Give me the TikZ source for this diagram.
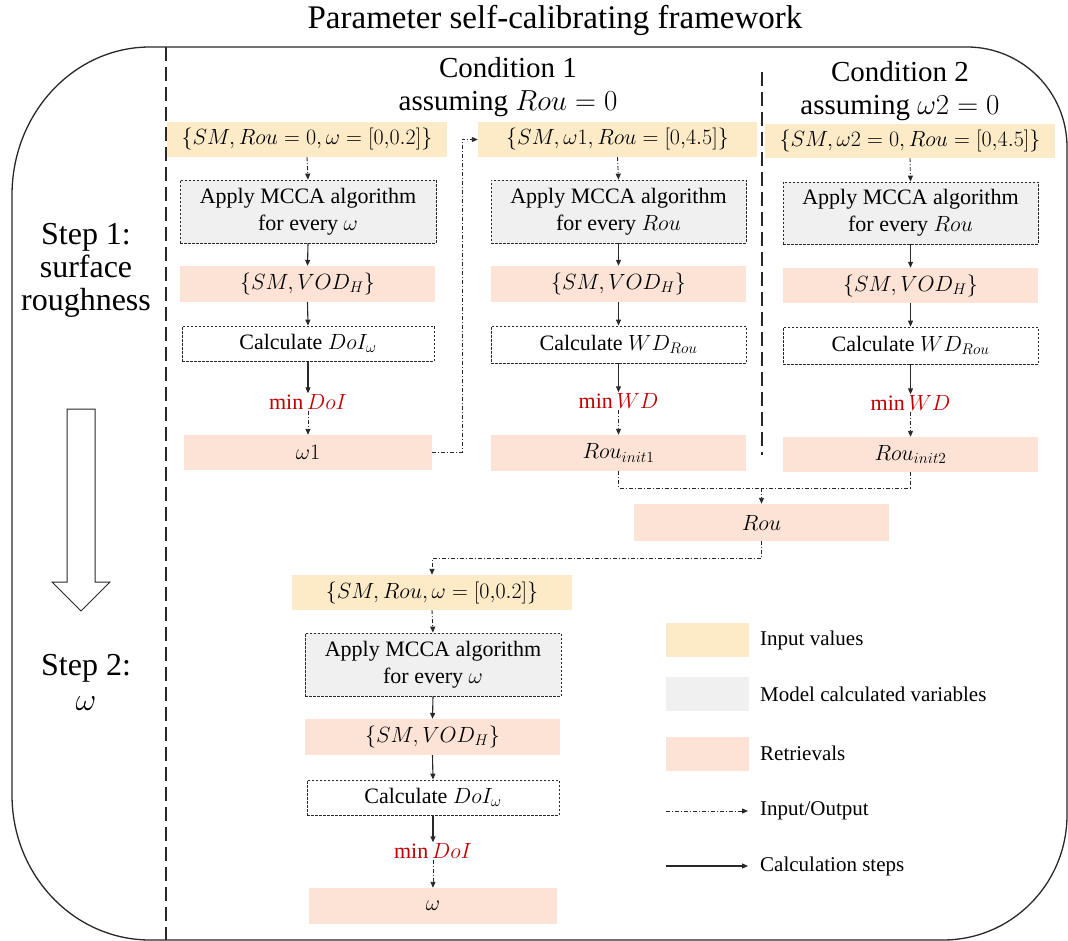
\RequirePackage{fix-cm}
\documentclass[tikz,border=0pt]{standalone}
\usepackage{fontspec}
\setmainfont{Liberation Serif}
\usetikzlibrary{arrows.meta}
\definecolor{inc}{RGB}{253,235,200}
\definecolor{gyc}{RGB}{240,240,240}
\definecolor{pkc}{RGB}{252,227,214}
\definecolor{mred}{RGB}{192,0,0}
\definecolor{ln}{RGB}{40,40,40}
\newcommand{\bxf}{\rmfamily\fontsize{22}{27}\selectfont}
\newcommand{\lgf}{\rmfamily\fontsize{21}{25}\selectfont}
\newcommand{\cdf}{\rmfamily\fontsize{29}{33}\selectfont}
\newcommand{\stf}{\rmfamily\fontsize{32}{35}\selectfont}
\newcommand{\ttf}{\rmfamily\fontsize{33}{38}\selectfont}
\newcommand{\twol}[2]{\begin{tabular}{@{}c@{}}#1\\#2\end{tabular}}
\newcommand{\threel}[3]{\begin{tabular}{@{}c@{}}#1\\#2\\#3\end{tabular}}
\begin{document}
\begin{tikzpicture}[x=1pt,y=-1pt,
 bx/.style={inner sep=0pt, font=\bxf},
 inbox/.style={bx, fill=inc},
 mcbox/.style={bx, fill=gyc, draw=ln, line width=0.8pt, dash pattern=on 2.5pt off 1.5pt},
 rtbox/.style={bx, fill=pkc},
 clbox/.style={bx, fill=white, draw=ln, line width=0.8pt, dash pattern=on 2.5pt off 1.5pt},
 mintext/.style={inner sep=1pt, font=\bxf, text=mred},
 io/.style={draw=ln, line width=0.9pt, dash pattern=on 4pt off 2pt on 1pt off 2pt},
 calc/.style={draw=ln, line width=1.1pt},
 tip/.style={-{Triangle[length=6pt,width=5pt]}},
 swatch/.style={inner sep=0pt, minimum width=83pt, minimum height=34pt},
 lgtext/.style={anchor=west, inner sep=0pt, font=\lgf},
]
\useasboundingbox (0,0) rectangle (1068,941);
% frame
\draw[ln, line width=1.3pt] (12,195) .. controls (12,113.3) and (73.8,47) .. (150,47)
  -- (967,47) .. controls (1022.2,47) and (1067,91.8) .. (1067,147)
  -- (1067,815) .. controls (1067,884) and (1011.5,940) .. (943,940)
  -- (150,940) .. controls (73.8,940) and (12,875.1) .. (12,795) -- cycle;
\draw[ln, line width=2.2pt, dash pattern=on 14pt off 6pt] (166,47) -- (166,940);
\draw[ln, line width=1.6pt, dash pattern=on 14pt off 6pt] (762,72) -- (762,455);
% title
\node[font=\ttf, inner sep=0pt] (title) at (555,20) {Parameter self-calibrating framework};
% left labels
\node[font=\stf, inner sep=0pt] (s1) at (86,271) {\renewcommand{\arraystretch}{0.95}\threel{Step 1:}{surface}{roughness}};
\node[font=\stf, inner sep=0pt] (s2) at (86,686) {\twol{Step 2:}{$\omega$}};
\draw[ln, line width=1pt, fill=white] (67,409) -- (95,409) -- (95,582) -- (110,582) -- (81,611) -- (52,582) -- (67,582) -- cycle;
% conditions
\node[font=\cdf, inner sep=0pt] (cond1) at (508,87) {\twol{Condition 1}{assuming $Rou=0$}};
\node[font=\cdf, inner sep=0pt] (cond2) at (900,91) {\twol{Condition 2}{assuming $\omega2=0$}};
% column 1
\node[inbox, minimum width=280pt, minimum height=35pt] (in1) at (307,139.5) {$\{SM,Rou=0,\omega=[0{,}0.2]\}$};
\node[mcbox, minimum width=256pt, minimum height=63pt] (mc1) at (308,211.5) {\twol{Apply MCCA algorithm}{for every $\omega$}};
\node[rtbox, minimum width=255pt, minimum height=36pt] (r1) at (307.5,284) {$\{SM,VOD_H\}$};
\node[clbox, minimum width=252pt, minimum height=35pt] (c1) at (308,343.5) {Calculate $DoI_\omega$};
\node[mintext] (m1) at (308,402) {min\,$DoI$};
\node[rtbox, minimum width=248pt, minimum height=35pt] (o1) at (308,452.5) {$\omega1$};
% column 2
\node[inbox, minimum width=279pt, minimum height=35pt] (in2) at (617.5,139.5) {$\{SM,\omega1,Rou=[0{,}4.5]\}$};
\node[mcbox, minimum width=255pt, minimum height=63pt] (mc2) at (618.5,211.5) {\twol{Apply MCCA algorithm}{for every $Rou$}};
\node[rtbox, minimum width=255pt, minimum height=36pt] (r2) at (618.5,284) {$\{SM,VOD_H\}$};
\node[clbox, minimum width=255pt, minimum height=37pt] (c2) at (618.5,344.5) {Calculate $WD_{Rou}$};
\node[mintext] (m2) at (618.5,401) {min\,$WD$};
\node[rtbox, minimum width=255pt, minimum height=36pt] (o2) at (618.5,453) {$Rou_{init1}$};
% column 3
\node[inbox, minimum width=290pt, minimum height=34pt] (in3) at (910,141) {$\{SM,\omega2=0,Rou=[0{,}4.5]\}$};
\node[mcbox, minimum width=255pt, minimum height=62pt] (mc3) at (910.5,213) {\twol{Apply MCCA algorithm}{for every $Rou$}};
\node[rtbox, minimum width=255pt, minimum height=35pt] (r3) at (910.5,285.5) {$\{SM,VOD_H\}$};
\node[clbox, minimum width=255pt, minimum height=37pt] (c3) at (910.5,345.5) {Calculate $WD_{Rou}$};
\node[mintext] (m3) at (910.5,403) {min\,$WD$};
\node[rtbox, minimum width=255pt, minimum height=35pt] (o3) at (910.5,454.5) {$Rou_{init2}$};
% Rou
\node[rtbox, minimum width=255pt, minimum height=37pt] (rou) at (761.5,522.5) {$Rou$};
% bottom column
\node[inbox, minimum width=280pt, minimum height=35pt] (in4) at (432,592.5) {$\{SM,Rou,\omega=[0{,}0.2]\}$};
\node[mcbox, minimum width=256pt, minimum height=63pt] (mc4) at (433,664.5) {\twol{Apply MCCA algorithm}{for every $\omega$}};
\node[rtbox, minimum width=255pt, minimum height=36pt] (r4) at (432.5,737) {$\{SM,VOD_H\}$};
\node[clbox, minimum width=252pt, minimum height=35pt] (c4) at (433,797.5) {Calculate $DoI_\omega$};
\node[mintext] (m4) at (433,851) {min\,$DoI$};
\node[rtbox, minimum width=248pt, minimum height=36pt] (o4) at (433,906) {$\omega$};
% column arrows
\foreach \k in {1,2,3,4}{
  \draw[io,tip] (in\k.south) -- (mc\k.north);
  \draw[calc,tip] (mc\k.south) -- (r\k.north);
  \draw[calc,tip] (r\k.south) -- (c\k.north);
  \draw[calc,tip] (c\k.south) -- (m\k.north);
  \draw[io,tip] (m\k.south) -- (o\k.north);
}
% cross connectors
\draw[io,tip] (o1.east) -- (462,452.5) |- (in2.west);
\coordinate (j) at (761.5,488);
\draw[io] (o2.south) |- (j);
\draw[io] (o3.south) |- (j);
\draw[io,tip] (j) -- (rou.north);
\draw[io,tip] (rou.south) -- ++(0,17) -| (in4.north);
% legend
\node[swatch, fill=inc] (lg1) at (707,640) {};
\node[lgtext] (lt1) at (760,640) {Input values};
\node[swatch, fill=gyc] (lg2) at (707,694) {};
\node[lgtext] (lt2) at (760,694) {Model calculated variables};
\node[swatch, fill=pkc] (lg3) at (707.5,753.5) {};
\node[lgtext] (lt3) at (760,753.5) {Retrievals};
\coordinate (la1) at (666,811);
\coordinate (lb1) at (748,811);
\draw[io,tip] (la1) -- (lb1);
\node[lgtext] (lt4) at (760,811) {Input/Output};
\coordinate (la2) at (666,866);
\coordinate (lb2) at (748,866);
\draw[calc,tip] (la2) -- (lb2);
\node[lgtext] (lt5) at (760,866) {Calculation steps};
\end{tikzpicture}
\end{document}
